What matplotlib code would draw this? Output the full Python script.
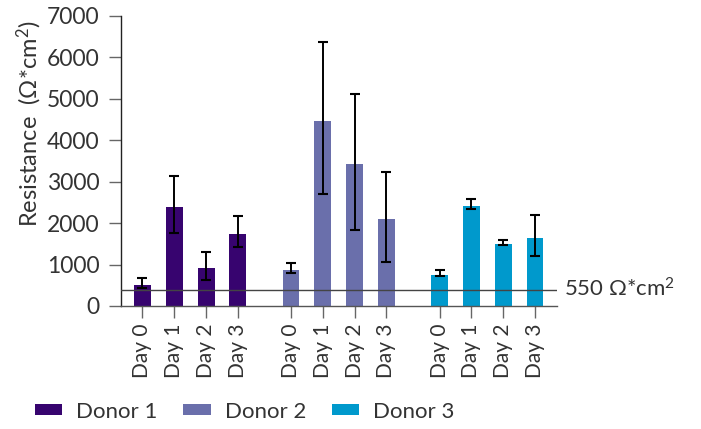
import matplotlib
matplotlib.use("Agg")
import matplotlib.pyplot as plt
from matplotlib.patches import Patch
import numpy as np

donors = ["Donor 1", "Donor 2", "Donor 3"]
days = ["Day 0", "Day 1", "Day 2", "Day 3"]
means = {
    "Donor 1": [507, 2390, 917, 1738],
    "Donor 2": [869, 4465, 3427, 2100],
    "Donor 3": [748, 2414, 1496, 1641],
}
err_low = {
    "Donor 1": [427, 1762, 628, 1416],
    "Donor 2": [804, 2696, 1834, 1062],
    "Donor 3": [724, 2349, 1470, 1207],
}
err_high = {
    "Donor 1": [676, 3145, 1311, 2172],
    "Donor 2": [1030, 6365, 5117, 3234],
    "Donor 3": [869, 2590, 1600, 2196],
}
colors = {"Donor 1": "#37046f", "Donor 2": "#6a6fab", "Donor 3": "#0099cc"}
threshold_value = 390
threshold_label = "550 Ω*cm$^2$"

plt.rcParams['font.family'] = ['Lato', 'DejaVu Sans']
plt.rcParams['mathtext.fontset'] = 'custom'
plt.rcParams['mathtext.rm'] = 'Lato'
plt.rcParams['mathtext.it'] = 'Lato'
txt = "#333333"

fig = plt.figure(figsize=(7.01, 4.29), dpi=100)
ax = fig.add_axes([121/701, 1-306/429, (557-121)/701, (306-16)/429])

group_gap = 1.67
all_pos, all_labels = [], []
for g, d in enumerate(donors):
    pos = np.arange(len(days)) + g * (len(days) - 1 + group_gap)
    m = np.array(means[d])
    lo = m - np.array(err_low[d])
    hi = np.array(err_high[d]) - m
    ax.bar(pos, m, width=0.53, color=colors[d], zorder=2)
    ax.errorbar(pos, m, yerr=[lo, hi], fmt="none", ecolor="black",
                elinewidth=1.4, capsize=3.7, capthick=1.5, zorder=3)
    all_pos.extend(pos)
    all_labels.extend(days)

ax.axhline(threshold_value, color="#444444", lw=1.0, zorder=4)
ax.annotate(threshold_label, xy=(1.0, threshold_value), xycoords=ax.get_yaxis_transform(),
            xytext=(5, 1), textcoords="offset points",
            va="center", ha="left", fontsize=16, color=txt)

ax.set_xlim(all_pos[0] - 0.675, all_pos[-1] + 0.69)
ax.set_ylim(0, 7000)
ax.set_yticks(np.arange(0, 7001, 1000))
ax.set_xticks(all_pos)
ax.set_xticklabels(all_labels, rotation=90, fontsize=15, color=txt)
ax.tick_params(axis="y", labelsize=16.5, labelcolor=txt, color="#666666", length=8.6, width=1, pad=7)
ax.tick_params(axis="x", color="#666666", length=8.6, width=1, pad=4)
for s in ["top", "right"]:
    ax.spines[s].set_visible(False)
ax.spines["left"].set_color("#222222")
ax.spines["bottom"].set_color("#555555")
for s in ["left", "bottom"]:
    ax.spines[s].set_linewidth(1.0)
ax.set_ylabel("Resistance  (Ω*cm$^2$)", fontsize=17, color=txt)
ax.yaxis.set_label_coords((44 - 121) / 436, (306 - 123.5) / 290)

handles = [Patch(facecolor=colors[d], label=d) for d in donors]
fig.legend(handles=handles, loc="center left", bbox_to_anchor=(35/701, (429-411.5)/429), ncol=3,
           frameon=False, fontsize=16, handlelength=1.22, handleheight=0.4,
           handletextpad=0.63, columnspacing=1.17, labelcolor=txt,
           borderpad=0, borderaxespad=0)

fig.savefig("out.png", dpi=100)
